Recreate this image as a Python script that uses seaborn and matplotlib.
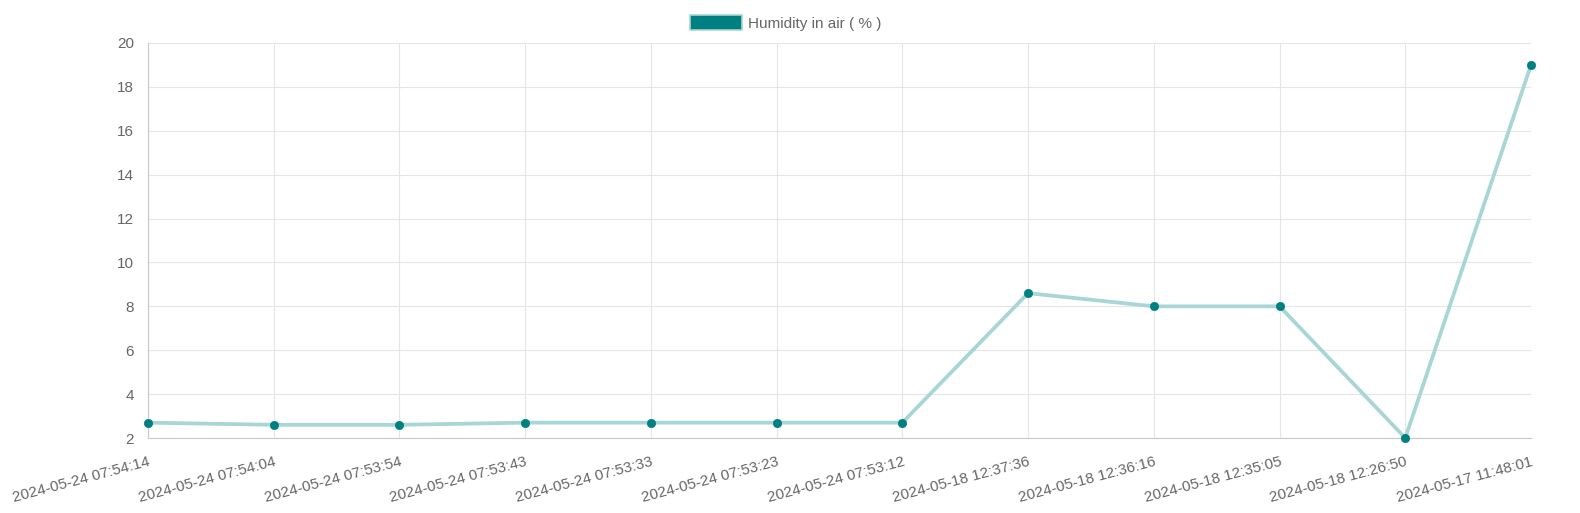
import pandas as pd
import matplotlib.pyplot as plt
import seaborn as sns
from matplotlib.patches import Patch

timestamps = [
    '2024-05-24 07:54:14', '2024-05-24 07:54:04', '2024-05-24 07:53:54',
    '2024-05-24 07:53:43', '2024-05-24 07:53:33', '2024-05-24 07:53:23',
    '2024-05-24 07:53:12', '2024-05-18 12:37:36', '2024-05-18 12:36:16',
    '2024-05-18 12:35:05', '2024-05-18 12:26:50', '2024-05-17 11:48:01',
]
humidity = [2.7, 2.6, 2.6, 2.7, 2.7, 2.7, 2.7, 8.6, 8.0, 8.0, 2.0, 19.0]
y_ticks = [2, 4, 6, 8, 10, 12, 14, 16, 18, 20]

sns.set_style('white')
plt.rcParams['font.family'] = ['Liberation Sans', 'DejaVu Sans']
plt.rcParams['font.size'] = 11

data = pd.DataFrame({'pos': range(len(timestamps)), 'humidity': humidity})

fig = plt.figure(figsize=(15.8, 5.13), dpi=100)
ax = fig.add_axes([148 / 1580, 1 - 438 / 513, 1383 / 1580, 395 / 513])

sns.lineplot(data=data, x='pos', y='humidity', ax=ax, color='#a8d5d5',
             linewidth=2.7, zorder=2)
sns.scatterplot(data=data, x='pos', y='humidity', ax=ax, color='#008080',
                s=36, edgecolor='#008080', zorder=3, clip_on=False)

ax.set_xlim(0, len(timestamps) - 1)
ax.set_ylim(2, 20)
ax.set_yticks(y_ticks)
ax.set_xticks(range(len(timestamps)))
ax.set_xticklabels(timestamps, rotation=15, ha='right', rotation_mode='anchor')
ax.set_xlabel('')
ax.set_ylabel('')

ax.grid(True, color='#e5e5e5', linewidth=0.8)
ax.tick_params(axis='both', colors='#e0e0e0', labelcolor='#666666',
               length=8, width=0.8, labelsize=11)
ax.tick_params(axis='x', pad=4)
ax.tick_params(axis='y', pad=2)
for side in ['top', 'right']:
    ax.spines[side].set_visible(False)
for side in ['left', 'bottom']:
    ax.spines[side].set_color('#c8c8c8')
    ax.spines[side].set_linewidth(0.8)

handle = Patch(facecolor='#008080', edgecolor='#a8d5d5', linewidth=1.2)
fig.legend([handle], ['Humidity in air ( % )'], loc='center',
           bbox_to_anchor=(0.4975, 0.955), frameon=False, handlelength=3.4,
           handleheight=1.05, handletextpad=0.4, fontsize=11,
           labelcolor='#666666')

plt.savefig('out.png')
